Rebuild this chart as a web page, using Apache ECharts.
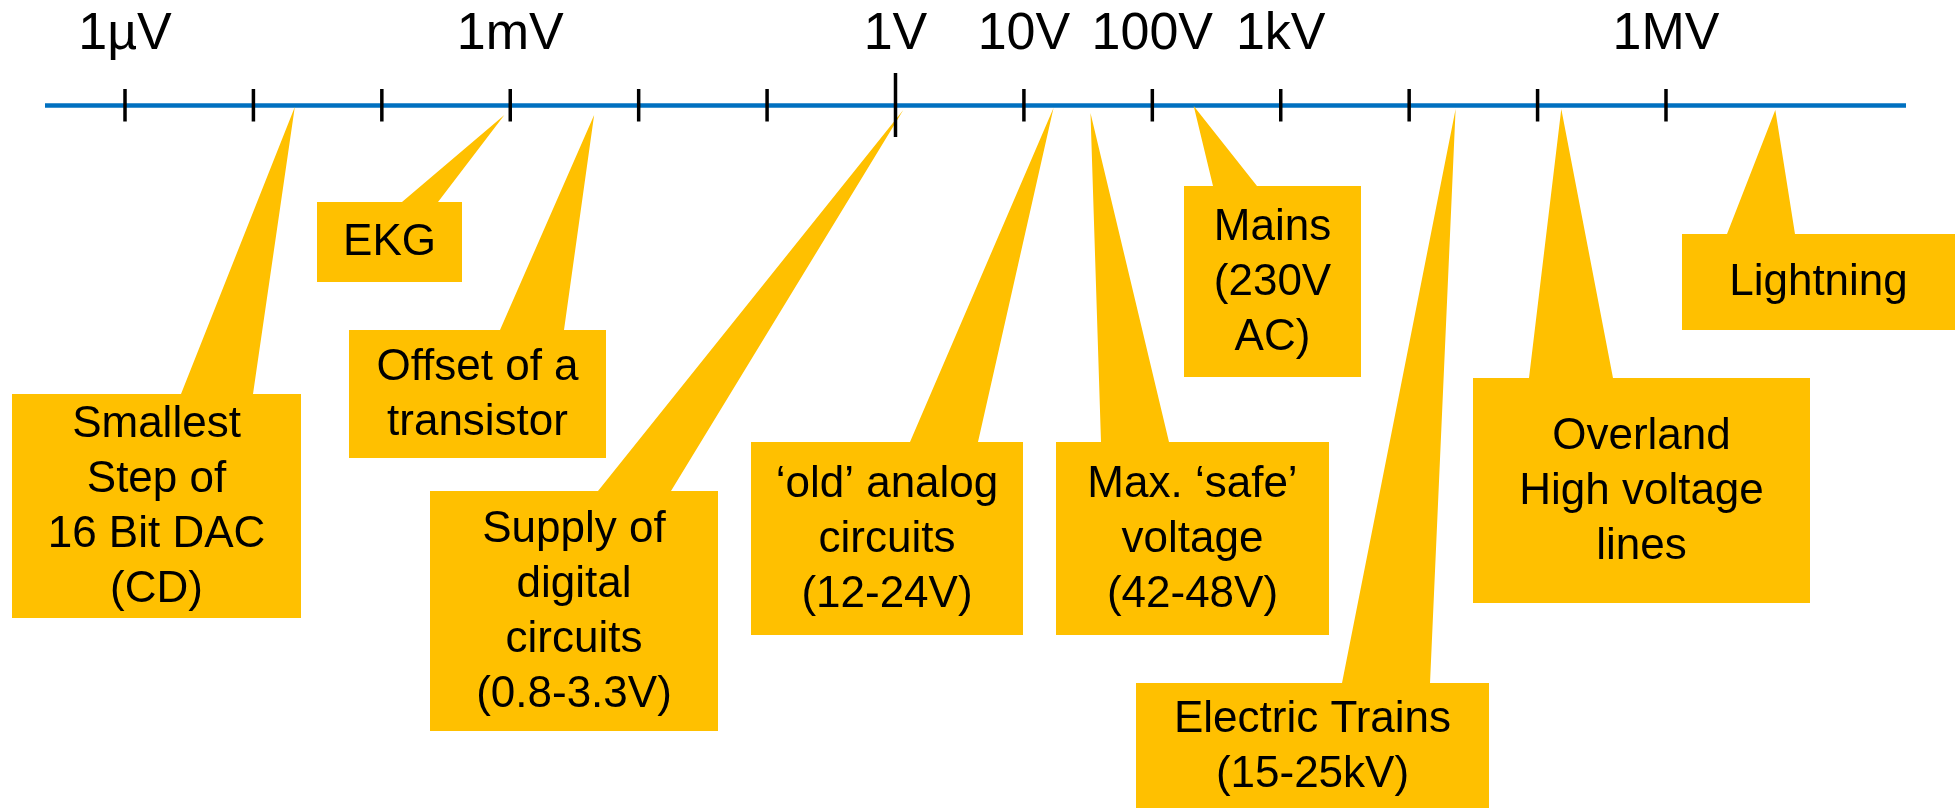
<!DOCTYPE html>
<html><head><meta charset="utf-8">
<script src="https://cdn.jsdelivr.net/npm/echarts@6/dist/echarts.min.js"></script>
<style>html,body{margin:0;padding:0;background:#fff}#c{width:1957px;height:808px}</style>
</head><body><div id="c"></div>
<script>
// Decade ticks on the voltage axis (volts)
const tickValues = [1e-6, 1e-5, 1e-4, 1e-3, 1e-2, 1e-1, 1, 10, 100, 1e3, 1e4, 1e5, 1e6];
const tickLabels = ['1µV', '', '', '1mV', '', '', '1V', '10V', '100V', '1kV', '', '', '1MV'];

// Callouts: text and the voltage each one points to (volts)
const calloutNames = [
  'Smallest\nStep of\n16 Bit DAC\n(CD)',
  'EKG',
  'Offset of a\ntransistor',
  'Supply of\ndigital\ncircuits\n(0.8-3.3V)',
  '\u2018old\u2019 analog\ncircuits\n(12-24V)',
  'Max. \u2018safe\u2019\nvoltage\n(42-48V)',
  'Mains\n(230V\nAC)',
  'Electric Trains\n(15-25kV)',
  'Overland\nHigh voltage\nlines',
  'Lightning'
];
const calloutValues = [2.1e-5, 9e-4, 4.5e-3, 1.15, 17, 33, 210, 2.3e4, 1.53e5, 7.1e6];

// Layout (pixels): box [x0,y0,x1,y1], pointer base [xa,xb], pointer tip y
const calloutBoxes = [[12,394,301,618],[317,202,462,282],[349,330,606,458],[430,491,718,731],[751,442,1023,635],[1056,442,1329,635],[1184,186,1361,377],[1136,683,1489,810],[1473,378,1810,603],[1682,234,1955,330]];
const calloutBases = [[181,253],[402,438],[500,564],[598,671],[910,978],[1101,1169],[1213,1257],[1342,1430],[1529,1613],[1727,1795]];
const calloutTipY = [107,115,115,110,108,113,106,109,109,110];

const axisMin = Math.pow(10, -6.623);
const axisMax = Math.pow(10, 7.869);
const majorTick = 1;
const FONT = '"Liberation Sans", Arial, Helvetica, sans-serif';

const chart = echarts.init(document.getElementById('c'), null, {renderer: 'canvas'});
chart.setOption({
  animation: false,
  backgroundColor: '#ffffff',
  grid: {left: 45, right: 51, top: 105, bottom: 0, containLabel: false, outerBoundsMode: 'none'},
  xAxis: {
    type: 'log', logBase: 10, position: 'top', min: axisMin, max: axisMax,
    axisLine: {show: true, onZero: false, lineStyle: {color: '#0070C0', width: 4.5, cap: 'butt'}},
    axisTick: {show: false}, axisLabel: {show: false}, splitLine: {show: false}, minorTick: {show: false}
  },
  yAxis: {type: 'value', min: 0, max: 1, show: false, splitLine: {show: false}},
  series: [
    {
      type: 'custom', z: 2, clip: false, silent: true,
      data: calloutValues.map((v, i) => [v, i]),
      renderItem: function (params, api) {
        const i = params.dataIndex;
        const tip = api.coord([api.value(0), 0]);
        const b = calloutBoxes[i], base = calloutBases[i], ty = calloutTipY[i];
        return {
          type: 'group',
          children: [
            {type: 'polygon', shape: {points: [[b[0], b[1]], [base[0], b[1]], [tip[0], ty], [base[1], b[1]], [b[2], b[1]], [b[2], b[3]], [b[0], b[3]]]},
             style: {fill: '#FFC000'}},
            {type: 'text', style: {text: calloutNames[i], x: (b[0] + b[2]) / 2, y: (b[1] + b[3]) / 2 + 1,
              align: 'center', verticalAlign: 'middle', font: '44px ' + FONT, lineHeight: 55, fill: '#000000'}}
          ]
        };
      }
    },
    {
      type: 'custom', z: 4, clip: false, silent: true,
      data: tickValues.map((v, i) => [v, i]),
      renderItem: function (params, api) {
        const v = api.value(0);
        const p = api.coord([v, 0]);
        const major = Math.abs(v - majorTick) < 1e-9;
        const children = [{type: 'line', shape: {x1: p[0], y1: major ? 73 : 89, x2: p[0], y2: major ? 137 : 121.5},
          style: {stroke: '#000000', lineWidth: 3.5}}];
        const lbl = tickLabels[params.dataIndex];
        if (lbl) children.push({type: 'text', style: {text: lbl, x: p[0], y: 35, align: 'center', verticalAlign: 'middle',
          font: '52px ' + FONT, fill: '#000000'}});
        return {type: 'group', children: children};
      }
    }
  ]
});
</script>
</body></html>
